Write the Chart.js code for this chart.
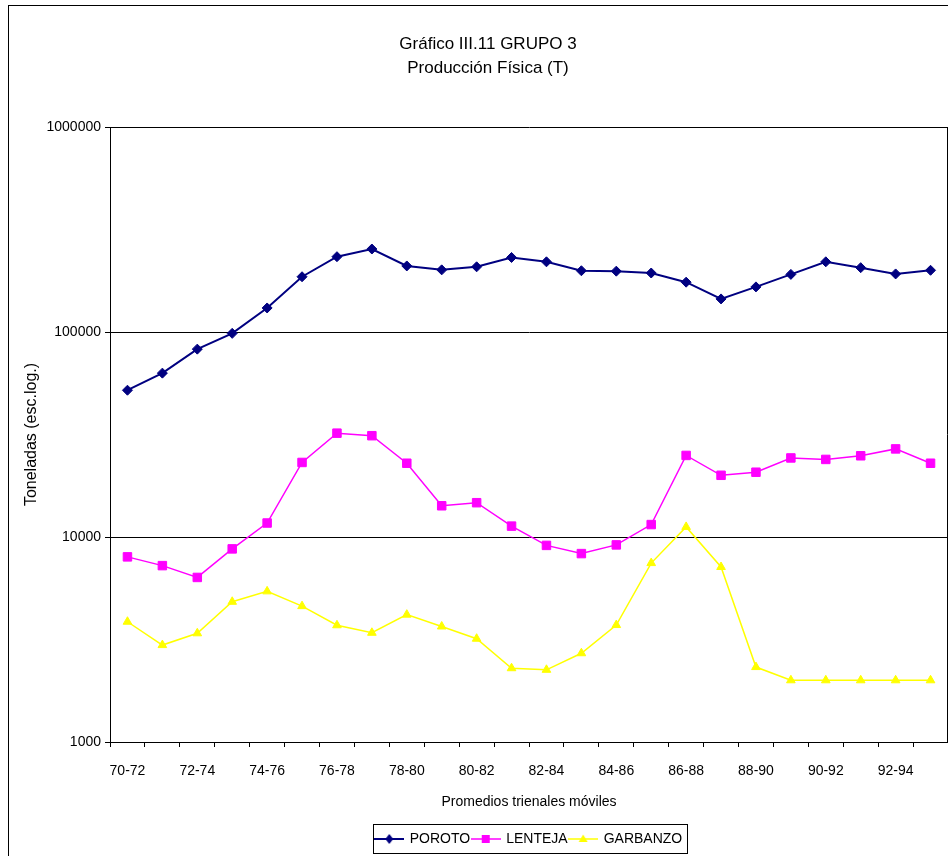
<!DOCTYPE html>
<html lang="es">
<head>
  <meta charset="UTF-8">
  <title>Gráfico III.11 GRUPO 3 - Producción Física (T)</title>
  <script src="https://cdn.jsdelivr.net/npm/chart.js"></script>
  <style>
    html, body {
      margin: 0;
      padding: 0;
      background: #ffffff;
      overflow: hidden;
    }
    #wrap {
      width: 948px;
      height: 856px;
      overflow: hidden;
    }
  </style>
</head>
<body>
  <div id="wrap"><canvas id="grafico" width="955" height="856"></canvas></div>

  <script>
    // datos (toneladas, promedios trienales móviles)
    const periodos = ["70-72", "71-73", "72-74", "73-75", "74-76", "75-77", "76-78", "77-79",
                      "78-80", "79-81", "80-82", "81-83", "82-84", "83-85", "84-86", "85-87",
                      "86-88", "87-89", "88-90", "89-91", "90-92", "91-93", "92-94", "93-95"];

    const poroto = [52000, 63000, 82500, 98500, 131000, 186000, 233000, 254000,
                    210000, 201000, 208000, 231000, 220000, 199000, 198000, 194000,
                    175000, 145000, 166000, 191000, 220000, 206000, 192000, 200000];

    const lenteja = [8000, 7250, 6350, 8750, 11700, 23100, 32100, 31200,
                     22900, 14200, 14700, 11300, 9100, 8300, 9150, 11500,
                     25000, 20000, 20700, 24300, 23900, 24900, 26900, 22900];

    const garbanzo = [3860, 2970, 3390, 4830, 5430, 4600, 3710, 3410,
                      4180, 3660, 3190, 2290, 2250, 2710, 3720, 7460,
                      11200, 7140, 2320, 2000, 2000, 2000, 2000, 2000];

    const yMin = 1000;
    const yMax = 1000000;

    const FONT = "'Liberation Sans', Arial, sans-serif";

    // muestra para la leyenda: línea con el marcador en el centro
    function legendSample(color, shape, lw) {
      const c = document.createElement("canvas");
      c.width = 30;
      c.height = 14;
      const g = c.getContext("2d");
      g.strokeStyle = color;
      g.fillStyle = color;
      g.lineWidth = lw;
      g.beginPath();
      g.moveTo(0, 7);
      g.lineTo(30, 7);
      g.stroke();
      g.beginPath();
      if (shape === "diamond") {
        g.moveTo(15, 2); g.lineTo(19, 7); g.lineTo(15, 12); g.lineTo(11, 7);
      } else if (shape === "square") {
        g.rect(11, 3, 8, 8);
      } else {
        g.moveTo(15, 2.5); g.lineTo(19.5, 10); g.lineTo(10.5, 10);
      }
      g.closePath();
      g.fill();
      return c;
    }

    const series = [
      { label: "POROTO", data: poroto, color: "#000080", style: "rectRot", sample: "diamond", width: 2, radius: 5 },
      { label: "LENTEJA", data: lenteja, color: "#FF00FF", style: "rect", sample: "square", width: 1.5, radius: 6 },
      { label: "GARBANZO", data: garbanzo, color: "#FFFF00", style: "triangle", sample: "triangle", width: 1.5, radius: 5 }
    ];

    // marcos: borde exterior, borde derecho del área y recuadro de la leyenda
    const marcos = {
      id: "marcos",
      beforeDraw(chart) {
        const ctx = chart.ctx;
        ctx.save();
        ctx.strokeStyle = "#000000";
        ctx.lineWidth = 1;
        ctx.strokeRect(8.5, 5.5, 1200, 1200);
        ctx.restore();
      },
      afterDraw(chart) {
        const ctx = chart.ctx;
        const a = chart.chartArea;
        ctx.save();
        ctx.strokeStyle = "#000000";
        ctx.lineWidth = 1;
        ctx.beginPath();
        ctx.moveTo(Math.round(a.right) - 0.5, a.top);
        ctx.lineTo(Math.round(a.right) - 0.5, a.bottom);
        ctx.stroke();

        const lg = chart.legend;
        const pad = lg.options.labels.padding;
        const total = lg.lineWidths[0] - pad;
        const cx = (lg.left + lg.right) / 2;
        const x0 = Math.round(cx - total / 2 - 3) + 0.5;
        const x1 = Math.round(cx + total / 2 + 5) + 0.5;
        const yc = lg.top + pad + 7;
        ctx.strokeRect(x0, Math.round(yc - 15) + 0.5, x1 - x0, 29);
        ctx.restore();
      }
    };

    new Chart(document.getElementById("grafico"), {
      type: "line",
      data: {
        labels: periodos,
        datasets: series.map(s => ({
          label: s.label,
          data: s.data,
          borderColor: s.color,
          backgroundColor: s.color,
          borderWidth: s.width,
          pointStyle: s.style,
          pointRadius: s.radius,
          pointBackgroundColor: s.color,
          pointBorderColor: s.color,
          pointBorderWidth: 1,
          tension: 0,
          fill: false
        }))
      },
      options: {
        responsive: false,
        animation: false,
        layout: {
          padding: { top: 0, left: 22, right: 1, bottom: 0 }
        },
        plugins: {
          title: {
            display: true,
            text: ["Gráfico III.11 GRUPO 3", "Producción Física (T)"],
            color: "#000000",
            font: { family: FONT, size: 17, weight: "normal", lineHeight: 24 / 17 },
            padding: { top: 32, bottom: 47 }
          },
          legend: {
            position: "bottom",
            fullSize: false,
            labels: {
              color: "#000000",
              font: { family: FONT, size: 14 },
              usePointStyle: true,
              pointStyleWidth: 27,
              padding: 2,
              generateLabels: () => series.map((s, i) => ({
                text: s.label,
                datasetIndex: i,
                pointStyle: legendSample(s.color, s.sample, s.width),
                fillStyle: s.color,
                strokeStyle: s.color,
                lineWidth: 0,
                fontColor: "#000000"
              }))
            }
          },
          tooltip: { enabled: false }
        },
        scales: {
          x: {
            type: "category",
            offset: true,
            grid: {
              display: true,
              offset: true,
              drawOnChartArea: false,
              drawTicks: true,
              tickLength: 5,
              color: "#000000"
            },
            border: { display: true, color: "#000000", width: 1 },
            ticks: {
              autoSkip: false,
              maxRotation: 0,
              minRotation: 0,
              padding: 16,
              color: "#000000",
              font: { family: FONT, size: 14 },
              callback: function (value, index) {
                return index % 2 === 0 ? this.getLabelForValue(value) : "";
              }
            },
            title: {
              display: true,
              text: "Promedios trienales móviles",
              color: "#000000",
              font: { family: FONT, size: 14 },
              padding: { top: 0, bottom: 19.6 }
            },
            afterFit: scale => { scale.height = 88; }
          },
          y: {
            type: "logarithmic",
            min: yMin,
            max: yMax,
            grid: {
              color: "#000000",
              lineWidth: 1,
              drawTicks: true,
              tickLength: 5
            },
            border: { display: true, color: "#000000", width: 1 },
            afterBuildTicks: scale => {
              scale.ticks = scale.ticks.filter(t => {
                const l = Math.log10(t.value);
                return Math.abs(l - Math.round(l)) < 1e-9;
              });
            },
            ticks: {
              padding: 4,
              color: "#000000",
              font: { family: FONT, size: 14 },
              callback: value => String(value)
            },
            title: {
              display: true,
              text: "Toneladas (esc.log.)",
              color: "#000000",
              font: { family: FONT, size: 16 },
              padding: { top: 0.4, bottom: 0 }
            },
            afterFit: scale => { scale.width = 88; }
          }
        }
      },
      plugins: [marcos]
    });
  </script>
</body>
</html>
